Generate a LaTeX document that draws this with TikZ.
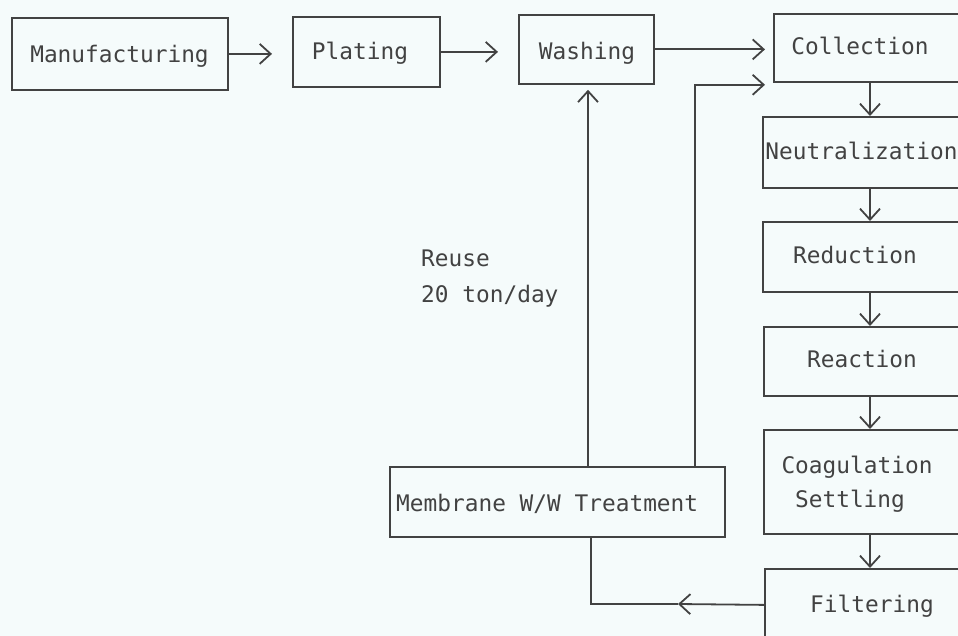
\documentclass[tikz,border=0pt]{standalone}
\usepackage{fontspec}
\newfontfamily\diagfont{DejaVu Sans Mono}
\usetikzlibrary{arrows.meta}
\definecolor{paper}{RGB}{245,251,251}
\definecolor{ink}{RGB}{66,66,66}
\begin{document}
\begin{tikzpicture}[x=1pt,y=-1pt,
  box/.style={draw=ink, line width=1.8pt, rectangle, inner sep=0pt, anchor=north west},
  lbl/.style={font=\diagfont\fontsize{22.8}{26}\selectfont, text=ink, inner sep=0pt, anchor=base},
  flow/.style={draw=ink, line width=1.8pt, -{Straight Barb[length=11pt,width=20pt]}},
  link/.style={draw=ink, line width=1.8pt}]
% page
\fill[paper] (0,0) rectangle (958,636);
\useasboundingbox (0,0) rectangle (958,636);

% top row
\node[box, minimum width=216pt, minimum height=72pt] (manu) at (11,17) {};
\node[box, minimum width=147pt, minimum height=70pt] (plat) at (292,16) {};
\node[box, minimum width=135pt, minimum height=69pt] (wash) at (518,14) {};

% treatment column (runs past the right edge)
\node[box, minimum width=240pt, minimum height=68pt] (coll) at (773,13) {};
\node[box, minimum width=240pt, minimum height=71pt] (neut) at (762,116) {};
\node[box, minimum width=240pt, minimum height=70pt] (red) at (762,221) {};
\node[box, minimum width=240pt, minimum height=69pt] (reac) at (763,326) {};
\node[box, minimum width=240pt, minimum height=104pt] (coag) at (763,429) {};
\node[box, minimum width=240pt, minimum height=72pt] (filt) at (764,568) {};

% membrane unit
\node[box, minimum width=335pt, minimum height=70pt] (memb) at (389,466) {};

% labels
\node[lbl] (manu-t) at (119.5,63) {Manufacturing};
\node[lbl] (plat-t) at (360,60) {Plating};
\node[lbl] (wash-t) at (587,60) {Washing};
\node[lbl] (coll-t) at (860,55) {Collection};
\node[lbl] (neut-t) at (861.5,160) {Neutralization};
\node[lbl] (red-t) at (855,264) {Reduction};
\node[lbl] (reac-t) at (862,367) {Reaction};
\node[lbl] (coag-t) at (857,473) {Coagulation};
\node[lbl] (sett-t) at (850,507) {Settling};
\node[lbl] (filt-t) at (872,612) {Filtering};
\node[lbl, anchor=base west] (memb-t) at (396,511) {Membrane W/W Treatment};
\node[lbl, anchor=base west] (reuse-a) at (421,267) {Reuse};
\node[lbl, anchor=base west] (reuse-b) at (421,302) {20 ton/day};

% helper columns for the connectors
\coordinate (colx) at (870,0);
\coordinate (upx) at (588,0);
\coordinate (rx) at (695,0);
\coordinate (dx) at (591,0);
\coordinate (fmid) at (678,604);

% main flow
\draw[flow, shorten >=20pt] (manu.east) -- (plat.west |- manu.east);
\draw[flow, shorten >=20pt] (plat.east) -- (wash.west |- plat.east);
\draw[flow, shorten >=8pt] (wash.east) -- (coll.west |- wash.east);
\draw[flow] (coll.south -| colx) -- (neut.north -| colx);
\draw[flow] (neut.south -| colx) -- (red.north -| colx);
\draw[flow] (red.south -| colx) -- (reac.north -| colx);
\draw[flow] (reac.south -| colx) -- (coag.north -| colx);
\draw[flow] (coag.south -| colx) -- (filt.north -| colx);

% return loop through the membrane unit
\draw[flow] (filt.west) -- (fmid);
\draw[link] (fmid) -| (memb.south -| dx);
\draw[flow, shorten >=5pt] (memb.north -| upx) -- (wash.south -| upx);
\draw[flow, shorten >=8pt] (memb.north -| rx) |- ([yshift=-2pt]coll.south west);
\end{tikzpicture}
\end{document}
